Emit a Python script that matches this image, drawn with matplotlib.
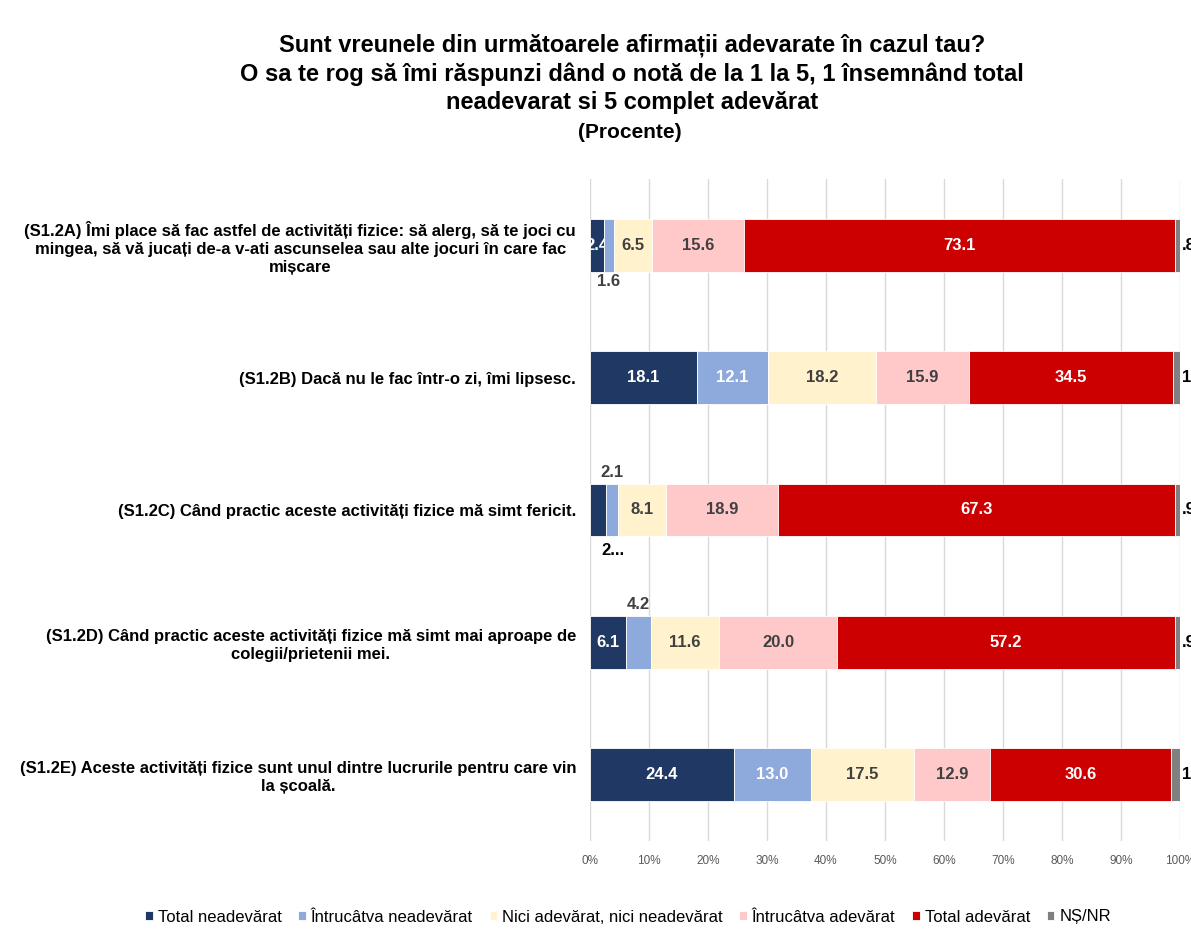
import matplotlib
matplotlib.use('Agg')
import matplotlib.pyplot as plt
import numpy as np

plt.rcParams['font.family'] = ['Liberation Sans', 'DejaVu Sans']

categories = [
    '(S1.2A) Îmi place să fac astfel de activități fizice: să alerg, să te joci cu\n'
    'mingea, să vă jucați de-a v-ati ascunselea sau alte jocuri în care fac\nmișcare',
    '(S1.2B) Dacă nu le fac într-o zi, îmi lipsesc.',
    '(S1.2C) Când practic aceste activități fizice mă simt fericit.',
    '(S1.2D) Când practic aceste activități fizice mă simt mai aproape de\ncolegii/prietenii mei.',
    '(S1.2E) Aceste activități fizice sunt unul dintre lucrurile pentru care vin\nla școală.',
]
series = ['Total neadevărat', 'Întrucâtva neadevărat', 'Nici adevărat, nici neadevărat',
          'Întrucâtva adevărat', 'Total adevărat', 'NȘ/NR']
total_neadevarat = [2.4, 18.1, 2.7, 6.1, 24.4]
intrucatva_neadevarat = [1.6, 12.1, 2.1, 4.2, 13.0]
nici = [6.5, 18.2, 8.1, 11.6, 17.5]
intrucatva_adevarat = [15.6, 15.9, 18.9, 20.0, 12.9]
total_adevarat = [73.1, 34.5, 67.3, 57.2, 30.6]
ns_nr = [0.8, 1.2, 0.9, 0.9, 1.6]

values = [total_neadevarat, intrucatva_neadevarat, nici, intrucatva_adevarat, total_adevarat, ns_nr]
colors = ['#203864', '#8EA9DB', '#FFF2CC', '#FFC9C9', '#CC0000', '#808080']
text_colors = ['white', 'white', '#404040', '#404040', 'white', 'black']

fig = plt.figure(figsize=(11.91, 9.5), dpi=100)
fig.patch.set_facecolor('white')
ax = fig.add_axes([590 / 1191, 1 - 841 / 950, 590 / 1191, (841 - 179) / 950])

BAR_H = 0.4
y = np.arange(len(categories))
left = np.zeros(len(categories))
lbl = dict(fontsize=12, fontweight='bold')
for i, (name, vals) in enumerate(zip(series, values)):
    vals = np.array(vals)
    ax.barh(y, vals, left=left, height=BAR_H, color=colors[i], label=name,
            edgecolor='white', linewidth=0.6, zorder=3)
    for j, v in enumerate(vals):
        cx = left[j] + v / 2
        if i == 5:
            # last segment label sits right of the bar, cut by figure edge
            ax.text(100.4, j, ('%.1f' % v).lstrip('0'), ha='left', va='center',
                    color='black', clip_on=False, **lbl)
        elif i == 1 and j == 0:
            ax.text(cx, j + BAR_H / 2 + 0.02, '%.1f' % v, ha='center', va='top',
                    color='#404040', **lbl)
        elif i == 1 and j in (2, 3):
            ax.text(cx, j - BAR_H / 2 - 0.03, '%.1f' % v, ha='center', va='bottom',
                    color='#404040', **lbl)
        elif i == 0 and j == 2:
            ax.text(cx + 2.5, j + BAR_H / 2 + 0.05, '2...', ha='center', va='top',
                    color='black', **lbl)
        else:
            ax.text(cx, j, '%.1f' % v, ha='center', va='center',
                    color=text_colors[i], **lbl)
    left += vals

ax.set_xlim(0, 100)
ax.set_ylim(len(categories) - 0.5, -0.5)
ax.set_yticks(y)
ax.set_yticklabels(categories, fontsize=12, fontweight='bold', multialignment='center',
                   linespacing=1.25)
ax.set_xticks(np.arange(0, 101, 10))
ax.set_xticklabels(['%d%%' % t for t in range(0, 101, 10)], fontsize=8.5, color='#595959')
ax.tick_params(axis='y', length=0, pad=10)
ax.tick_params(axis='x', length=0, pad=10)
ax.grid(axis='x', color='#D9D9D9', linewidth=1, zorder=0)
for s in ax.spines.values():
    s.set_visible(False)

title_lines = ['Sunt vreunele din următoarele afirmații adevarate în cazul tau?',
               'O sa te rog să îmi răspunzi dând o notă de la 1 la 5, 1 însemnând total',
               'neadevarat si 5 complet adevărat']
for k, line in enumerate(title_lines):
    fig.text(632 / 1191, 1 - (45 + 29 * k) / 950, line, ha='center', va='center',
             fontsize=17, fontweight='bold')
fig.text(630 / 1191, 1 - 133 / 950, '(Procente)', ha='center', va='center',
         fontsize=15, fontweight='bold')

fig.legend(loc='center', bbox_to_anchor=(628 / 1191, 1 - 917 / 950), ncol=6, frameon=False,
           fontsize=12, handlelength=0.45, handleheight=0.45,
           handletextpad=0.3, columnspacing=1.0)

plt.savefig('out.png', dpi=100, facecolor='white')
